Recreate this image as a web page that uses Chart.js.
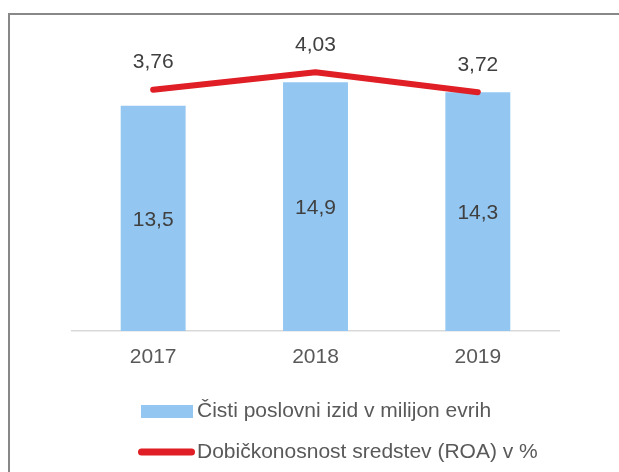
<!DOCTYPE html>
<html>
<head>
<meta charset="utf-8">
<script src="https://cdn.jsdelivr.net/npm/chart.js@4/dist/chart.umd.min.js"></script>
<style>
  html, body { margin: 0; padding: 0; background: #ffffff; }
  #wrap { position: relative; width: 619px; height: 472px; overflow: hidden; }
  #frame { position: absolute; left: 8px; top: 13px; width: 700px; height: 600px;
           border-left: 2px solid #888888; border-top: 2px solid #888888; box-sizing: border-box; }
  canvas { position: absolute; left: 0; top: 0; }
</style>
</head>
<body>
<div id="wrap">
  <div id="frame"></div>
  <canvas id="c" width="619" height="472"></canvas>
</div>
<script>
const categories = ['2017', '2018', '2019'];
const netIncome = [13.5, 14.9, 14.3];
const roa = [3.76, 4.03, 3.72];
const netIncomeLabel = 'Čisti poslovni izid v milijon evrih';
const roaLabel = 'Dobičkonosnost sredstev (ROA) v %';

const FONT = "'Liberation Sans', Arial, sans-serif";
function fmtNum(v, dec) { return v.toFixed(dec).replace('.', ','); }

const labelPlugin = {
  id: 'valueLabels',
  afterDatasetsDraw(chart) {
    const ctx = chart.ctx;
    ctx.save();
    ctx.font = '21px ' + FONT;
    ctx.fillStyle = '#404040';
    ctx.textAlign = 'center';
    ctx.textBaseline = 'middle';
    const barMeta = chart.getDatasetMeta(0);
    barMeta.data.forEach((el, i) => {
      const v = chart.data.datasets[0].data[i];
      ctx.fillText(fmtNum(v, 1), el.x, (el.y + el.base) / 2 + 1.5);
    });
    const lineMeta = chart.getDatasetMeta(1);
    lineMeta.data.forEach((el, i) => {
      const v = chart.data.datasets[1].data[i];
      ctx.fillText(fmtNum(v, 2), el.x, el.y - 27);
    });
    ctx.restore();
  }
};

const legendPlugin = {
  id: 'customLegend',
  afterDraw(chart) {
    const ctx = chart.ctx;
    const ds = chart.data.datasets;
    ctx.save();
    ctx.font = '21px ' + FONT;
    ctx.textAlign = 'left';
    ctx.textBaseline = 'middle';
    // item 1: bar swatch
    ctx.fillStyle = ds[0].backgroundColor;
    ctx.fillRect(141, 405, 52, 13);
    ctx.fillStyle = '#595959';
    ctx.fillText(ds[0].label, 197, 411);
    // item 2: line swatch
    ctx.strokeStyle = ds[1].borderColor;
    ctx.lineWidth = 7;
    ctx.lineCap = 'round';
    ctx.beginPath();
    ctx.moveTo(141.5, 452);
    ctx.lineTo(191.5, 452);
    ctx.stroke();
    ctx.fillText(ds[1].label, 197, 452);
    ctx.restore();
  }
};

new Chart(document.getElementById('c'), {
  type: 'bar',
  data: {
    labels: categories,
    datasets: [
      {
        type: 'bar',
        label: netIncomeLabel,
        data: netIncome,
        backgroundColor: '#93C7F2',
        borderWidth: 0,
        categoryPercentage: 0.4,
        barPercentage: 1,
        yAxisID: 'y',
        order: 1
      },
      {
        type: 'line',
        label: roaLabel,
        data: roa,
        borderColor: '#E01E25',
        backgroundColor: '#E01E25',
        borderWidth: 6,
        borderCapStyle: 'round',
        borderJoinStyle: 'round',
        pointRadius: 0,
        tension: 0,
        yAxisID: 'y1',
        order: 0
      }
    ]
  },
  options: {
    responsive: false,
    animation: false,
    devicePixelRatio: 1,
    layout: { padding: { left: 72, right: 60, top: 64, bottom: 0 } },
    plugins: { legend: { display: false }, tooltip: { enabled: false } },
    scales: {
      x: {
        offset: true,
        grid: { display: false, drawTicks: false },
        border: { display: true, color: '#D9D9D9', width: 1.5 },
        ticks: { color: '#595959', font: { family: FONT, size: 21 }, padding: 14 },
        afterFit(scale) { scale.height = 141; }
      },
      y: { display: false, min: 0, max: 16 },
      y1: { display: false, min: 0, max: 4.16, position: 'right' }
    }
  },
  plugins: [labelPlugin, legendPlugin]
});
</script>
</body>
</html>
